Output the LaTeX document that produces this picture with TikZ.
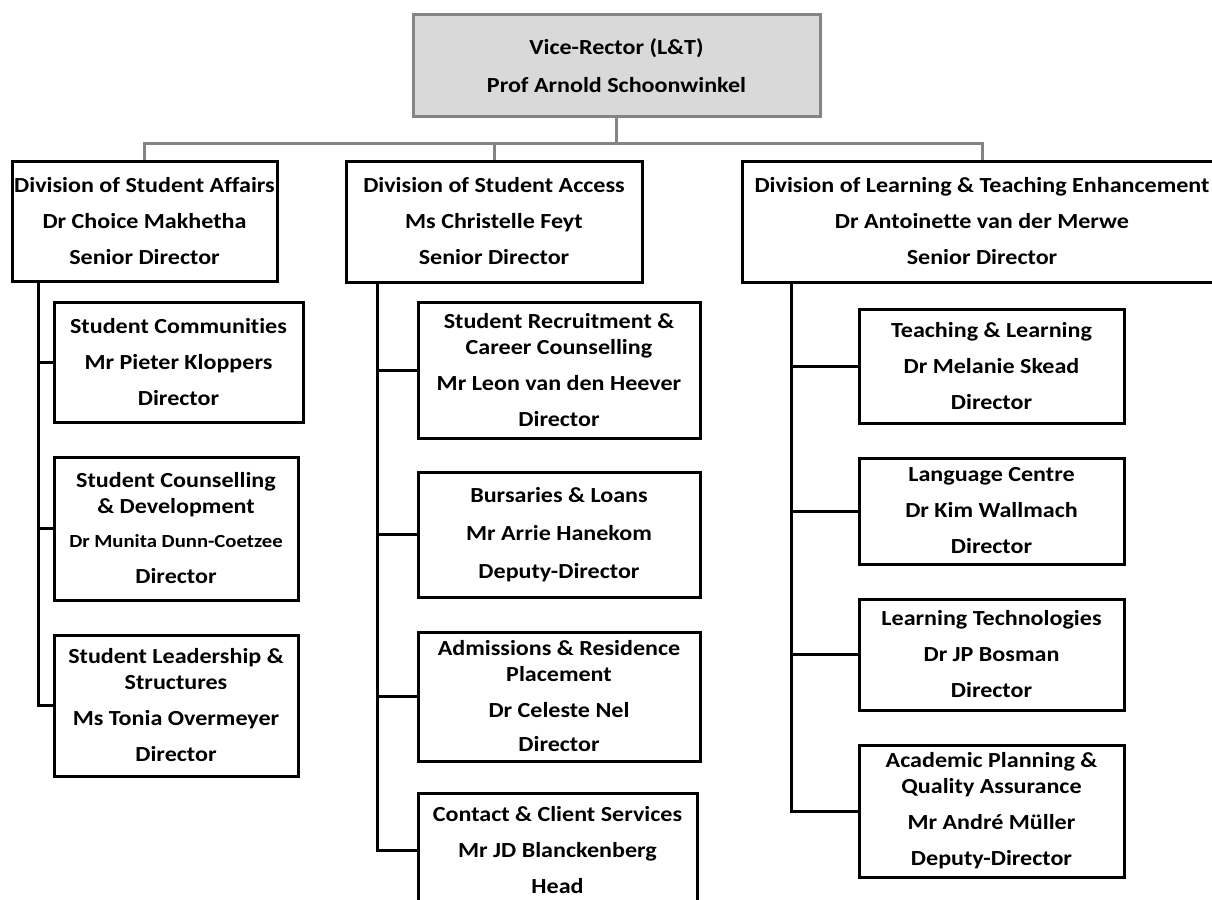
\documentclass[tikz,border=0pt]{standalone}
\usepackage{fontspec}
\setmainfont{Carlito}[FakeStretch=1.12,Ligatures=NoCommon]
\definecolor{headFill}{HTML}{D9D9D9}
\definecolor{headLine}{HTML}{848484}
\newcommand\smallname{\fontsize{18.5}{22}\selectfont}

\begin{document}
\begin{tikzpicture}
[x=1pt,y=-1pt,
  boxDecorate/.style={shape=rectangle,draw,line width=3pt,inner sep=0pt,
    align=center,font=\fontsize{21.5}{26}\selectfont\bfseries},
  headDecorate/.style={boxDecorate,draw=headLine,fill=headFill},
  lineDecorate/.style={-,line width=3pt},
  greyDecorate/.style={-,line width=3pt,draw=headLine}]
\useasboundingbox (0,0) rectangle (1212,899);
%% head of the chart
\node (vr) at (616.5,65.5) [headDecorate,minimum width=407pt,minimum height=101pt]
  {Vice-Rector (L\&T)\\[12pt]Prof Arnold Schoonwinkel};
%% divisions and their units
\foreach \nodename/\x/\y/\w/\h/\txt in {
  %% divisions
  sa/144.5/221/265/120/{Division of Student Affairs\\[10pt]Dr Choice Makhetha\\[10pt]Senior Director},
  sac/494/221.5/296/121/{Division of Student Access\\[10pt]Ms Christelle Feyt\\[10pt]Senior Director},
  lte/982/221.5/480/121/{Division of Learning \& Teaching Enhancement\\[10pt]Dr Antoinette van der Merwe\\[10pt]Senior Director},
  %% student affairs
  sc/178.5/362/249/120/{Student Communities\\[10pt]Mr Pieter Kloppers\\[10pt]Director},
  scd/176/528.5/244/143/{Student Counselling\\\& Development\\[8pt]{\smallname Dr Munita Dunn-Coetzee}\\[10pt]Director},
  slsd/176/705.5/244/141/{Student Leadership \&\\Structures\\[10pt]Ms Tonia Overmeyer\\[10pt]Director},
  %% student access
  src/559/370/282/136/{Student Recruitment \&\\Career Counselling\\[10pt]Mr Leon van den Heever\\[10pt]Director},
  bl/559/534.5/282/125/{Bursaries \& Loans\\[12pt]Mr Arrie Hanekom\\[12pt]Deputy-Director},
  arp/559/696.5/282/129/{Admissions \& Residence\\Placement\\[10pt]Dr Celeste Nel\\[8pt]Director},
  ccs/557.5/850/279/114/{Contact \& Client Services\\[10pt]Mr JD Blanckenberg\\[10pt]Head},
  %% learning and teaching enhancement
  tl/991.5/366/265/114/{Teaching \& Learning\\[10pt]Dr Melanie Skead\\[10pt]Director},
  lc/991.5/511/265/106/{Language Centre\\[10pt]Dr Kim Wallmach\\[10pt]Director},
  lt/991.5/654.5/265/111/{Learning Technologies\\[10pt]Dr JP Bosman\\[10pt]Director},
  apqa/991.5/811/265/132/{Academic Planning \&\\Quality Assurance\\[10pt]Mr André Müller\\[10pt]Deputy-Director}}
{
  \node (\nodename) at (\x,\y) [boxDecorate,minimum width=\w pt,minimum height=\h pt] {\txt};
}
%% grey bar under the head
\coordinate (bar) at (616.5,143);
\draw[greyDecorate] (vr.south) -- (bar);
\foreach \endnode in {sa,sac,lte}
{
  \draw[greyDecorate] (bar) -| (\endnode.north);
}
%% trunks under the divisions
\coordinate (saTop) at (38,281);
\coordinate (sacTop) at (377,282);
\coordinate (lteTop) at (791,282);
\foreach \startnode/\endnode in {saTop/sc, saTop/scd, saTop/slsd,
  sacTop/src, sacTop/bl, sacTop/arp, sacTop/ccs,
  lteTop/tl, lteTop/lc, lteTop/lt, lteTop/apqa}
{
  \draw[lineDecorate] (\startnode) |- (\endnode.west);
}
\end{tikzpicture}
\end{document}
